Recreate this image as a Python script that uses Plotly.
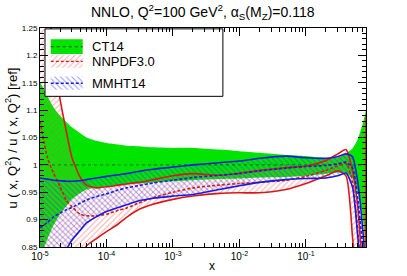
import plotly.graph_objects as go

# ---------------- data ----------------
x_vals = [1e-5, 1.3e-5, 1.6e-5, 2e-5, 2.5e-5, 3e-5, 4e-5, 5e-5, 7e-5, 1e-4,
          1.5e-4, 2e-4, 3e-4, 5e-4, 1e-3, 2e-3, 5e-3, 1e-2, 2e-2, 5e-2,
          0.1, 0.2, 0.3, 0.4, 0.5, 0.6, 0.7, 0.75, 0.8]

ct14_up = [1.152, 1.125, 1.105, 1.090, 1.078, 1.069, 1.058, 1.050, 1.044, 1.040,
           1.037, 1.035, 1.034, 1.032, 1.031, 1.031, 1.028, 1.025, 1.022, 1.018,
           1.016, 1.012, 1.013, 1.021, 1.030, 1.047, 1.072, 1.085, 1.100]
ct14_lo = [0.830, 0.865, 0.890, 0.910, 0.925, 0.937, 0.948, 0.955, 0.958, 0.961,
           0.963, 0.965, 0.966, 0.968, 0.970, 0.972, 0.974, 0.975, 0.977, 0.978,
           0.980, 0.984, 0.986, 0.985, 0.975, 0.950, 0.910, 0.880, 0.840]
ct14_c = [1.0, 1.0, 1.0, 1.0, 1.0, 1.0, 1.0, 1.0, 1.0, 1.0,
          1.0, 1.0, 1.0, 1.0, 1.0, 1.0, 1.0, 1.0, 1.0, 1.0,
          1.0, 1.0, 1.0, 1.0, 1.0, 1.0, 1.0, 1.0, 1.0]

nn_up = [1.600, 1.350, 1.200, 1.120, 1.060, 1.015, 0.978, 0.963, 0.958, 0.960,
         0.963, 0.965, 0.968, 0.973, 0.980, 0.984, 0.981, 0.985, 0.990, 0.995,
         0.998, 1.008, 1.020, 1.028, 0.990, 0.925, 0.830, 0.820, 1.090]
nn_lo = [0.620, 0.660, 0.700, 0.740, 0.770, 0.795, 0.830, 0.852, 0.865, 0.878,
         0.892, 0.904, 0.918, 0.928, 0.937, 0.943, 0.948, 0.949, 0.949, 0.955,
         0.966, 0.980, 0.989, 0.980, 0.870, 0.750, 0.680, 0.650, 0.620]
nn_c = [1.080, 1.012, 0.985, 0.960, 0.935, 0.924, 0.910, 0.907, 0.907, 0.910,
        0.917, 0.921, 0.930, 0.940, 0.950, 0.958, 0.963, 0.966, 0.968, 0.972,
        0.979, 0.990, 0.998, 1.003, 0.970, 0.880, 0.780, 0.740, 0.700]

mm_up = [0.976, 0.974, 0.972, 0.971, 0.970, 0.970, 0.971, 0.973, 0.976, 0.979,
         0.982, 0.984, 0.988, 0.992, 0.996, 1.000, 1.004, 1.007, 1.012, 1.016,
         1.013, 1.012, 1.015, 1.020, 1.015, 0.970, 0.895, 0.850, 0.790]
mm_lo = [0.700, 0.740, 0.780, 0.815, 0.845, 0.862, 0.880, 0.894, 0.905, 0.915,
         0.922, 0.927, 0.934, 0.939, 0.943, 0.946, 0.955, 0.962, 0.968, 0.973,
         0.975, 0.976, 0.980, 0.985, 0.960, 0.870, 0.780, 0.740, 0.700]
mm_c = [0.885, 0.895, 0.905, 0.912, 0.918, 0.922, 0.930, 0.936, 0.942, 0.947,
        0.954, 0.958, 0.962, 0.967, 0.972, 0.977, 0.981, 0.984, 0.989, 0.994,
        0.997, 0.999, 1.002, 1.005, 0.995, 0.940, 0.860, 0.810, 0.760]

series_names = ["CT14", "NNPDF3.0", "MMHT14"]
x_tick_vals = [1e-5, 1e-4, 1e-3, 1e-2, 1e-1]
x_tick_text = ["10<sup>-5</sup>", "10<sup>-4</sup>", "10<sup>-3</sup>",
               "10<sup>-2</sup>", "10<sup>-1</sup>"]

# ---------------- style ----------------
GREEN = "rgb(0,228,0)"
DGREEN = "rgb(0,110,0)"
RED = "rgb(215,25,25)"
HRED = "rgb(240,95,95)"
BLUE = "rgb(25,25,225)"
HBLUE = "rgb(60,60,235)"
FONT = "Liberation Sans, Arial, sans-serif"

fig = go.Figure()

def band(up, lo, **kw):
    return go.Scatter(x=x_vals + x_vals[::-1], y=up + lo[::-1], mode="lines",
                      fill="toself", line=dict(width=0, shape="spline", smoothing=0.6),
                      hoverinfo="skip", showlegend=False, **kw)

fig.add_trace(band(ct14_up, ct14_lo, fillcolor=GREEN))
fig.add_trace(band(nn_up, nn_lo, fillcolor="rgba(0,0,0,0)",
                   fillpattern=dict(shape="/", fgcolor=HRED, bgcolor="rgba(0,0,0,0)",
                                    size=4, solidity=0.28, fillmode="overlay")))
fig.add_trace(band(mm_up, mm_lo, fillcolor="rgba(0,0,0,0)",
                   fillpattern=dict(shape="\\", fgcolor=HBLUE, bgcolor="rgba(0,0,0,0)",
                                    size=4, solidity=0.28, fillmode="overlay")))

def line(y, color, dash, width):
    return go.Scatter(x=x_vals, y=y, mode="lines", hoverinfo="skip", showlegend=False,
                      line=dict(color=color, dash=dash, width=width,
                                shape="spline", smoothing=0.6))

fig.add_trace(line(ct14_c, DGREEN, "dot", 1))
for up, lo, c, col in [(nn_up, nn_lo, nn_c, RED), (mm_up, mm_lo, mm_c, BLUE)]:
    fig.add_trace(line(up, col, "solid", 1.6))
    fig.add_trace(line(lo, col, "solid", 1.6))
    fig.add_trace(line(c, col, "3px,2px", 1.6))

# ---------------- custom legend on an overlay [0,1] frame ----------------
def rect(x0, x1, y0, y1, **kw):
    return go.Scatter(x=[x0, x1, x1, x0, x0], y=[y0, y0, y1, y1, y0], mode="lines",
                      fill="toself", xaxis="x2", yaxis="y2", hoverinfo="skip",
                      showlegend=False, **kw)

fig.add_trace(rect(0.0153, 0.561, 0.688, 0.996, fillcolor="white",
                   line=dict(color="black", width=1)))
sw_x0, sw_x1 = 0.033, 0.131
rows = [(0.949, 0.881), (0.877, 0.818), (0.778, 0.7175)]
sw_style = [
    dict(fillcolor=GREEN, line=dict(width=0)),
    dict(fillcolor="rgba(0,0,0,0)", line=dict(width=0),
         fillpattern=dict(shape="/", fgcolor=HRED, bgcolor="rgba(0,0,0,0)", size=4,
                          solidity=0.28, fillmode="overlay")),
    dict(fillcolor="rgba(0,0,0,0)", line=dict(width=0),
         fillpattern=dict(shape="\\", fgcolor=HBLUE, bgcolor="rgba(0,0,0,0)", size=4,
                          solidity=0.28, fillmode="overlay")),
]
sw_line = [(DGREEN, "dot"), (RED, "3px,2px"), (BLUE, "3px,2px")]
for (y1, y0), st, (lc, ld), name in zip(rows, sw_style, sw_line, series_names):
    fig.add_trace(rect(sw_x0, sw_x1, y0, y1, **st))
    ym = (y0 + y1) / 2
    fig.add_trace(go.Scatter(x=[sw_x0, sw_x1], y=[ym, ym], mode="lines", xaxis="x2",
                             yaxis="y2", hoverinfo="skip", showlegend=False,
                             line=dict(color=lc, dash=ld, width=1.3)))
    fig.add_annotation(x=0.153, y=ym, xref="x2", yref="y2", text=name, showarrow=False,
                       xanchor="left", yanchor="middle",
                       font=dict(family=FONT, size=13, color="black"))

# ---------------- axes & layout ----------------
minor_x = [m * 10.0 ** e for e in range(-5, 0) for m in range(2, 10) if m * 10.0 ** e <= 0.8]

fig.update_layout(
    width=407, height=276,
    margin=dict(l=40, r=41, t=28, b=28.5),
    paper_bgcolor="white", plot_bgcolor="white",
    showlegend=False,
    font=dict(family=FONT, color="black"),
    xaxis=dict(type="log", range=[-5, -0.0969], showgrid=False, zeroline=False,
               showline=True, linecolor="black", linewidth=1, mirror="allticks",
               ticks="inside", ticklen=8, tickcolor="black",
               tickvals=x_tick_vals, ticktext=x_tick_text,
               tickfont=dict(size=10, family=FONT),
               minor=dict(tickvals=minor_x, ticks="inside", ticklen=4,
                          tickcolor="black", showgrid=False)),
    yaxis=dict(range=[0.85, 1.25], showgrid=False, zeroline=False,
               showline=True, linecolor="black", linewidth=1, mirror="allticks",
               ticks="inside", ticklen=8, tickcolor="black", dtick=0.05, tick0=0.85,
               tickfont=dict(size=8, family=FONT),
               minor=dict(dtick=0.01, ticks="inside", ticklen=4, tickcolor="black",
                          showgrid=False)),
    xaxis2=dict(overlaying="x", anchor="y2", range=[0, 1], visible=False),
    yaxis2=dict(overlaying="y", anchor="x2", range=[0, 1], visible=False),
)

fig.add_annotation(x=0.5, y=1.0, xref="paper", yref="paper", yshift=16,
                   text="NNLO, Q<sup>2</sup>=100 GeV<sup>2</sup>, α<sub>S</sub>(M<sub>Z</sub>)=0.118",
                   showarrow=False, xanchor="center", yanchor="middle",
                   font=dict(family=FONT, size=14))
fig.add_annotation(x=0.527, y=-0.089, xref="paper", yref="paper", text="x",
                   showarrow=False, xanchor="center", yanchor="middle",
                   font=dict(family=FONT, size=12))
fig.add_annotation(x=-0.089, y=0.5, xref="paper", yref="paper", textangle=-90,
                   text="u ( x, Q<sup>2</sup>) / u ( x, Q<sup>2</sup>) [ref]",
                   showarrow=False, xanchor="center", yanchor="middle",
                   font=dict(family=FONT, size=13))

fig.write_html("out.html",
               config={"displayModeBar": False, "staticPlot": True},
               post_script="document.body.style.margin='0';document.body.style.overflow='hidden';")
